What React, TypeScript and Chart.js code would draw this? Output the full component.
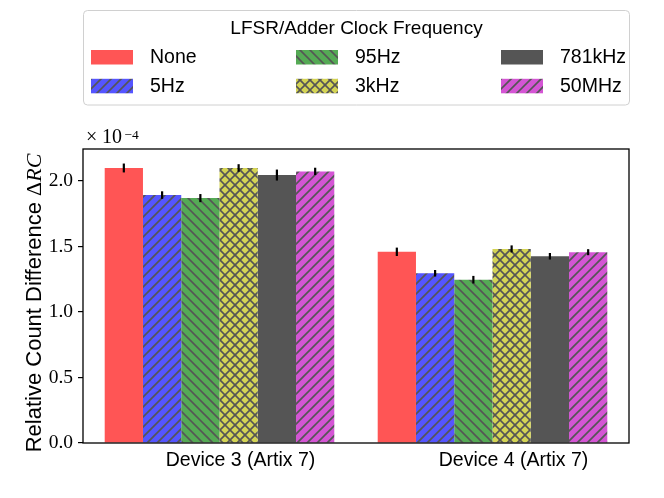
import React, { useEffect, useRef } from "react";
import { Chart, registerables } from "chart.js";

Chart.register(...registerables);

// values are in units of 1e-4 (axis shows the x10^-4 offset)
const categories = ["Device 3 (Artix 7)", "Device 4 (Artix 7)"];
const seriesNames = ["None", "5Hz", "95Hz", "3kHz", "781kHz", "50MHz"];

const noneValues = [2.1, 1.46];
const hz5Values = [1.893, 1.296];
const hz95Values = [1.87, 1.247];
const khz3Values = [2.1, 1.482];
const khz781Values = [2.046, 1.426];
const mhz50Values = [2.074, 1.457];

const noneErr = [0.034, 0.032];
const hz5Err = [0.029, 0.025];
const hz95Err = [0.031, 0.029];
const khz3Err = [0.029, 0.027];
const khz781Err = [0.042, 0.025];
const mhz50Err = [0.028, 0.023];

const seriesValues = [noneValues, hz5Values, hz95Values, khz3Values, khz781Values, mhz50Values];
const seriesErrors = [noneErr, hz5Err, hz95Err, khz3Err, khz781Err, mhz50Err];

const colors = ["#ff5555", "#5555ff", "#55aa55", "#d4d455", "#555555", "#d455d4"];
const hatches = ["", "/", "\\", "x", "", "/"];

const legendTitle = "LFSR/Adder Clock Frequency";
const yTitle = "Relative Count Difference ";

const SANS = "'Liberation Sans'";
const SERIF = "'Liberation Serif'";

function makePattern(color: string, hatch: string): CanvasPattern | string {
  if (!hatch) return color;
  const size = 30;
  const c = document.createElement("canvas");
  c.width = size;
  c.height = size;
  const g = c.getContext("2d")!;
  g.fillStyle = color;
  g.fillRect(0, 0, size, size);
  g.strokeStyle = "#555555";
  g.lineWidth = 1.6;
  const step = size / 3;
  if (hatch === "/" || hatch === "x") {
    // x + y = k
    for (let k = -size; k <= 3 * size; k += step) {
      g.beginPath();
      g.moveTo(k + size, -size);
      g.lineTo(k - 2 * size, 2 * size);
      g.stroke();
    }
  }
  if (hatch === "\\" || hatch === "x") {
    // y - x = k
    for (let k = -2 * size; k <= 2 * size; k += step) {
      g.beginPath();
      g.moveTo(-size, k - size);
      g.lineTo(2 * size, k + 2 * size);
      g.stroke();
    }
  }
  return g.createPattern(c, "repeat")!;
}

export default function App() {
  const canvasRef = useRef<HTMLCanvasElement | null>(null);
  const chartRef = useRef<Chart | null>(null);

  useEffect(() => {
    document.body.style.margin = "0";
    if (!canvasRef.current) return;
    if (chartRef.current) chartRef.current.destroy();

    const fills = colors.map((c, i) => makePattern(c, hatches[i]));

    const errorBars = {
      id: "errorBars",
      afterDatasetsDraw(chart: any) {
        const ctx = chart.ctx;
        const y = chart.scales.y;
        ctx.save();
        ctx.strokeStyle = "#000";
        ctx.lineWidth = 2.2;
        chart.data.datasets.forEach((_: any, i: number) => {
          const meta = chart.getDatasetMeta(i);
          meta.data.forEach((bar: any, j: number) => {
            const v = seriesValues[i][j];
            const e = seriesErrors[i][j];
            ctx.beginPath();
            ctx.moveTo(bar.x, y.getPixelForValue(v - e));
            ctx.lineTo(bar.x, y.getPixelForValue(v + e));
            ctx.stroke();
          });
        });
        ctx.restore();
      },
    };

    const decorations = {
      id: "decorations",
      afterDraw(chart: any) {
        const ctx = chart.ctx;
        const { left, right, top, bottom } = chart.chartArea;
        ctx.save();

        // axes frame
        ctx.strokeStyle = "#000";
        ctx.lineWidth = 1.3;
        ctx.strokeRect(left, top, right - left, bottom - top);

        // y axis title with math part
        const parts = [
          { text: yTitle, font: `22px ${SANS}` },
          { text: "\u0394", font: `22px ${SERIF}` },
          { text: "RC", font: `italic 22px ${SERIF}` },
        ];
        let total = 0;
        parts.forEach((p) => {
          ctx.font = p.font;
          total += ctx.measureText(p.text).width;
        });
        ctx.translate(41, 303);
        ctx.rotate(-Math.PI / 2);
        ctx.fillStyle = "#000";
        ctx.textBaseline = "alphabetic";
        ctx.textAlign = "left";
        let x = -total / 2;
        parts.forEach((p) => {
          ctx.font = p.font;
          ctx.fillText(p.text, x, 0);
          x += ctx.measureText(p.text).width;
        });
        ctx.restore();

        // offset text x10^-4
        ctx.save();
        ctx.fillStyle = "#000";
        ctx.textBaseline = "alphabetic";
        ctx.textAlign = "left";
        ctx.font = `20px ${SERIF}`;
        ctx.fillText("\u00d7", 86, 143);
        ctx.fillText("10", 102, 143);
        ctx.font = `13.5px ${SERIF}`;
        ctx.fillText("\u22124", 124.5, 138.5);
        ctx.restore();

        // legend
        ctx.save();
        const bx = 83.5, by = 10.5, bw = 546, bh = 94.5;
        ctx.fillStyle = "#fff";
        ctx.strokeStyle = "#d0d0d0";
        ctx.lineWidth = 1;
        ctx.beginPath();
        ctx.roundRect(bx, by, bw, bh, 4);
        ctx.fill();
        ctx.stroke();
        ctx.fillStyle = "#000";
        ctx.font = `19px ${SANS}`;
        ctx.textAlign = "center";
        ctx.textBaseline = "middle";
        ctx.fillText(legendTitle, 356.5, 28.5);
        const colX = [91, 296, 501];
        const textX = [150, 355, 560];
        const rowY = [50, 78.8];
        ctx.font = `19.5px ${SANS}`;
        ctx.textAlign = "left";
        seriesNames.forEach((name, i) => {
          const col = Math.floor(i / 2);
          const row = i % 2;
          ctx.fillStyle = fills[i] as any;
          ctx.fillRect(colX[col], rowY[row], 42, 14.5);
          ctx.fillStyle = "#000";
          ctx.fillText(name, textX[col], rowY[row] + 7.5);
        });
        ctx.restore();
      },
    };

    chartRef.current = new Chart(canvasRef.current, {
      type: "bar",
      data: {
        labels: categories,
        datasets: seriesNames.map((name, i) => ({
          label: name,
          data: seriesValues[i],
          backgroundColor: fills[i] as any,
          borderWidth: 0,
          categoryPercentage: 0.841,
          barPercentage: 1.0,
        })),
      },
      options: {
        animation: false,
        responsive: false,
        layout: { padding: { top: 149, right: 35, left: 0, bottom: 0 } },
        plugins: {
          legend: { display: false },
          tooltip: { enabled: false },
          title: { display: false },
        },
        scales: {
          x: {
            offset: true,
            grid: { display: false, drawTicks: false },
            border: { display: false },
            ticks: {
              color: "#000",
              font: { family: SANS, size: 19.5 },
              padding: 6,
              labelOffset: 21,
              maxRotation: 0,
            },
            afterFit: (s: any) => {
              s.height = 55;
            },
          },
          y: {
            min: 0,
            max: 2.245,
            grid: {
              display: true,
              drawOnChartArea: false,
              tickLength: 5,
              color: "#000",
              lineWidth: 1.2,
            },
            border: { display: false },
            ticks: {
              stepSize: 0.5,
              includeBounds: false,
              color: "#000",
              padding: 5,
              font: { family: SERIF, size: 19.5 },
              callback: (v: any) => Number(v).toFixed(1),
            },
            afterFit: (s: any) => {
              s.width = 83;
            },
          },
        },
      },
      plugins: [errorBars, decorations],
    });

    return () => chartRef.current?.destroy();
  }, []);

  return (
    <div style={{ width: 664, height: 498, background: "#fff" }}>
      <canvas ref={canvasRef} width={664} height={498} />
    </div>
  );
}
